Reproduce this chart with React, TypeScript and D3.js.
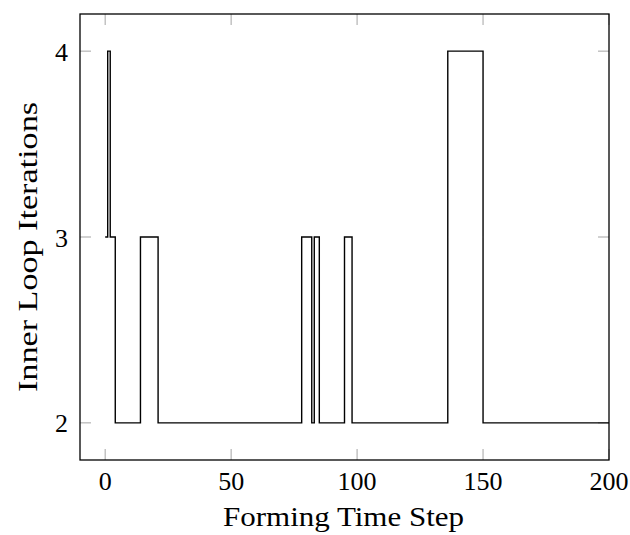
import React from "react";
import * as d3 from "d3";

// change points of the step series (value held until next time)
const times = [0, 1, 2, 4, 14, 21, 78, 82, 83, 85, 95, 98, 136, 150, 200];
const iterations = [3, 4, 3, 2, 3, 2, 3, 2, 3, 2, 3, 2, 4, 2, 2];
const xTicks = [0, 50, 100, 150, 200];
const yTicks = [2, 3, 4];
const xLabel = "Forming Time Step";
const yLabel = "Inner Loop Iterations";

const W = 630;
const H = 535;
const M = { left: 80, right: 21, top: 14, bottom: 75 };
const FONT = "'Liberation Serif', 'DejaVu Serif', serif";

export default function App() {
  const x = d3.scaleLinear().domain([-10, 200]).range([M.left, W - M.right]);
  const y = d3.scaleLinear().domain([1.8, 4.2]).range([H - M.bottom, M.top]);
  const data = times.map((t, i) => [t, iterations[i]] as [number, number]);
  const line = d3
    .line<[number, number]>()
    .x((d) => x(d[0]))
    .y((d) => y(d[1]))
    .curve(d3.curveStepAfter);
  const x0 = M.left, x1 = W - M.right, y0 = H - M.bottom, y1 = M.top;
  const tl = 11;
  const tickColor = "#b3b3b3";
  return (
    <svg
      width={W}
      height={H}
      style={{ position: "absolute", left: 0, top: 0, background: "#fff" }}
    >
      {xTicks.map((t) => (
        <g key={"x" + t}>
          <line x1={x(t)} x2={x(t)} y1={y0} y2={y0 - tl} stroke={tickColor} strokeWidth={1.2} />
          <line x1={x(t)} x2={x(t)} y1={y1} y2={y1 + tl} stroke={tickColor} strokeWidth={1.2} />
          <text x={x(t)} y={y0 + 29.5} textAnchor="middle" fontFamily={FONT} fontSize={26}>
            {t}
          </text>
        </g>
      ))}
      {yTicks.map((t) => (
        <g key={"y" + t}>
          <line x1={x0} x2={x0 + tl} y1={y(t)} y2={y(t)} stroke={tickColor} strokeWidth={1.2} />
          <line x1={x1} x2={x1 - tl} y1={y(t)} y2={y(t)} stroke={tickColor} strokeWidth={1.2} />
          <text x={x0 - 12} y={y(t) + 9.5} textAnchor="end" fontFamily={FONT} fontSize={26}>
            {t}
          </text>
        </g>
      ))}
      <path d={line(data) || ""} fill="none" stroke="#000" strokeWidth={1.4} />
      <rect x={x0} y={y1} width={x1 - x0} height={y0 - y1} fill="none" stroke="#000" strokeWidth={1.3} />
      <text
        x={(x0 + x1) / 2 - 1}
        y={526}
        textAnchor="middle"
        fontFamily={FONT}
        fontSize={27}
        textLength={241}
        lengthAdjust="spacingAndGlyphs"
      >
        {xLabel}
      </text>
      <text
        transform={`translate(37, 247) rotate(-90)`}
        textAnchor="middle"
        fontFamily={FONT}
        fontSize={27}
        textLength={290}
        lengthAdjust="spacingAndGlyphs"
      >
        {yLabel}
      </text>
    </svg>
  );
}
